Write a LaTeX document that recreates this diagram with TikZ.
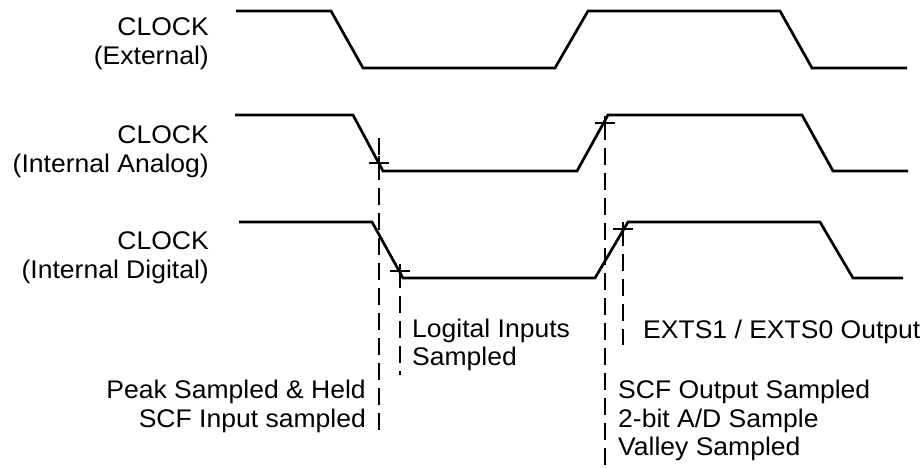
\documentclass[tikz,border=0pt]{standalone}
\usepackage{fontspec}
\setmainfont[FakeStretch=1.04]{Liberation Sans}
\begin{document}
\begin{tikzpicture}[x=1pt,y=-1pt,
  wave/.style={line width=2.7pt, line join=miter},
  guide/.style={line width=1.9pt, dash pattern=on 17pt off 8pt},
  tickmark/.style={line width=1.8pt},
  lbl/.style={inner sep=0pt, font=\fontsize{25.5}{29}\selectfont}]
\useasboundingbox (0,0) rectangle (922,468);

% waveforms
\draw[wave] (236,11) -- (331,11) -- (363,68) -- (555,68) -- (588,11) -- (780,11) -- (812,68) -- (907,68);
\draw[wave] (235,115) -- (353,115) -- (383,171) -- (577,171) -- (608,115) -- (802,115) -- (833,171) -- (908,171);
\draw[wave] (239,222) -- (372,222) -- (403,278) -- (595,278) -- (628,222) -- (820,222) -- (853,278) -- (903,278);

% sample points
\coordinate (af) at (379,163);
\coordinate (ar) at (605,123);
\coordinate (df) at (400,271);
\coordinate (dr) at (623,229);
\coordinate (afS) at (379,138);
\coordinate (afE) at (379,433);
\coordinate (arE) at (605,468);
\coordinate (dfE) at (400,375);
\coordinate (drE) at (623,345);

\foreach \p in {af,ar,df,dr}{
  \draw[tickmark] ([xshift=-10pt]\p) -- ([xshift=10pt]\p);
  \draw[tickmark] ([yshift=-7pt]\p) -- ([yshift=7pt]\p);
}
\draw[guide] (afS) -- (afE);
\draw[guide] (ar) -- (arE);
\draw[guide] (df) -- (dfE);
\draw[guide] (dr) -- (drE);

% left labels
\node[lbl, anchor=base east] (c1) at (209,36) {CLOCK};
\node[lbl, anchor=base east] (c1b) at (209,65) {(External)};
\node[lbl, anchor=base east] (c2) at (209,144) {CLOCK};
\node[lbl, anchor=base east] (c2b) at (209,173) {(Internal Analog)};
\node[lbl, anchor=base east] (c3) at (209,249) {CLOCK};
\node[lbl, anchor=base east] (c3b) at (209,278) {(Internal Digital)};

% event labels
\node[lbl, anchor=base west] (li1) at (412,337) {Logital Inputs};
\node[lbl, anchor=base west] (li2) at (412,365) {Sampled};
\node[lbl, anchor=base west] (ex) at (643,338) {EXTS1 / EXTS0 Output};
\node[lbl, anchor=base east] (pk1) at (366,398) {Peak Sampled \& Held};
\node[lbl, anchor=base east] (pk2) at (366,427) {SCF Input sampled};
\node[lbl, anchor=base west] (so1) at (618,398) {SCF Output Sampled};
\node[lbl, anchor=base west] (so2) at (618,427) {2-bit A/D Sample};
\node[lbl, anchor=base west] (so3) at (618,455) {Valley Sampled};
\end{tikzpicture}
\end{document}
